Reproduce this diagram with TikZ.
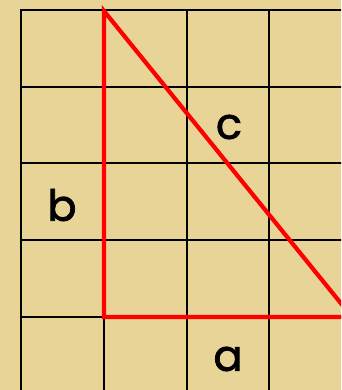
\documentclass[tikz,border=0pt]{standalone}
\usepackage{fontspec}
\newfontfamily\lblfont[FakeBold=1.8]{Poppins}
\definecolor{papyrus}{RGB}{233,212,152}
\definecolor{trired}{RGB}{255,0,0}
\tikzset{
  gridline/.style={black, line width=2.2pt},
  triline/.style={trired, line width=4.2pt, line join=miter},
  lbl/.style={font=\lblfont\fontsize{43}{43}\selectfont, inner sep=0pt, text=black}
}
\begin{document}
\begin{tikzpicture}[x=1pt,y=-1pt]
\useasboundingbox (0,0) rectangle (341,390);
\fill[papyrus] (0,0) rectangle (341,390);
\clip (0,0) rectangle (341,390);
% grid
\foreach \x in {21,104,187,269} \draw[gridline] (\x,10) -- (\x,392);
\foreach \y in {10,87,163,240,317} \draw[gridline] (20,\y) -- (345,\y);
% triangle
\coordinate (A) at (104,11);
\coordinate (B) at (104,317);
\coordinate (C) at (352,317);
\draw[triline] (A) -- (B) -- (C) -- cycle;
% labels
\node[lbl] (lc) at (229,127) {c};
\node[lbl] (lb) at (62,205) {b};
\node[lbl] (la) at (228,359) {a};
\end{tikzpicture}
\end{document}
